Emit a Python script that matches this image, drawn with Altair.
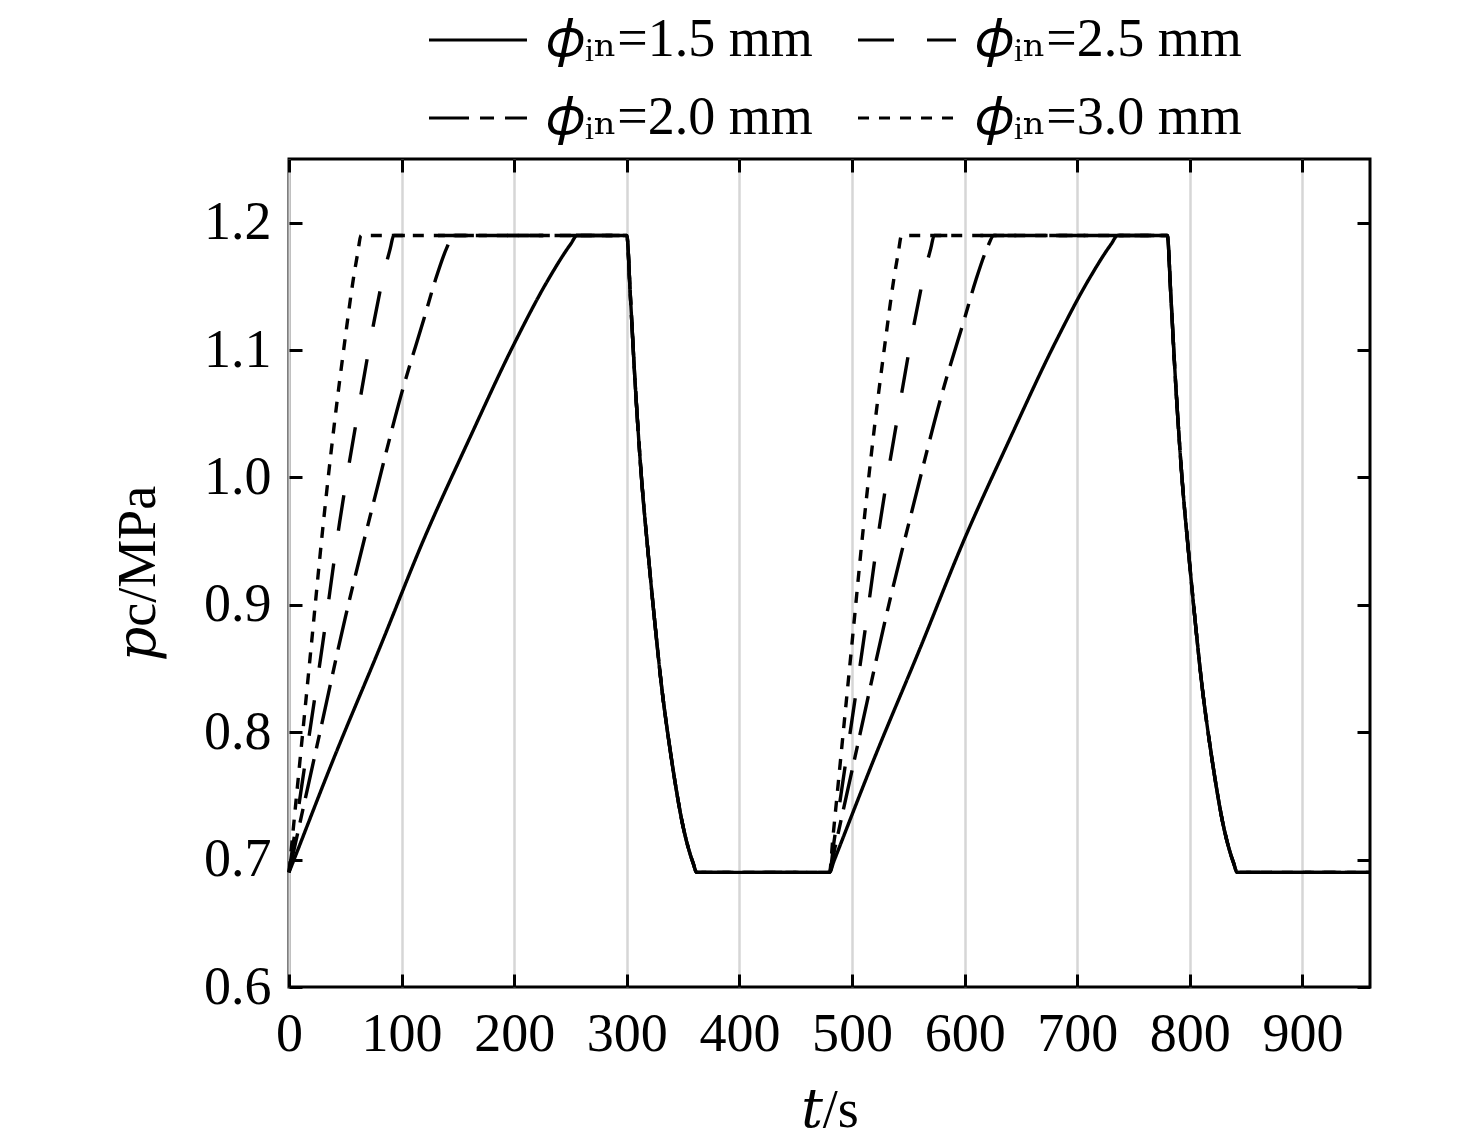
import altair as alt
import pandas as pd

# ---- values ----
# series labels (legend order: row-major in a 2-column legend)
series_names = ["𝜙ᵢₙ=1.5 mm", "𝜙ᵢₙ=2.5 mm", "𝜙ᵢₙ=2.0 mm", "𝜙ᵢₙ=3.0 mm"]
series_dash = [[1, 0], [36, 33], [40, 11, 14, 11], [11, 10]]

# charging (rise) phase: seconds after the start of a cycle, pressure in MPa
rise_t_15 = [0, 4, 40, 80, 120, 160, 200, 230, 250, 256]
rise_p_15 = [0.69, 0.699, 0.78, 0.865, 0.952, 1.03, 1.105, 1.155, 1.183, 1.19]
rise_t_20 = [0, 5, 25, 50, 75, 100, 120, 130, 140, 146]
rise_p_20 = [0.69, 0.71, 0.79, 0.89, 0.98, 1.066, 1.125, 1.155, 1.180, 1.19]
rise_t_25 = [0, 4, 15, 30, 45, 60, 75, 85, 90, 93]
rise_p_25 = [0.69, 0.714, 0.78, 0.87, 0.965, 1.045, 1.12, 1.163, 1.18, 1.19]
rise_t_30 = [0, 3, 10, 20, 30, 40, 50, 57, 61, 64]
rise_p_30 = [0.69, 0.717, 0.78, 0.87, 0.96, 1.04, 1.11, 1.155, 1.176, 1.19]

# discharging (drop) phase, common to all series: seconds after valve switch
drop_t = [0, 3, 7, 13, 19, 25, 31, 37, 43, 49, 55, 59, 62]
drop_p = [1.19, 1.145, 1.08, 1.00, 0.94, 0.885, 0.835, 0.795, 0.76, 0.73, 0.708, 0.697, 0.69]

cycle_starts = [0, 480]     # s
switch_times = [300, 780]   # s
end_time = 960              # s

x_ticks = [0, 100, 200, 300, 400, 500, 600, 700, 800, 900]
y_ticks = [0.6, 0.7, 0.8, 0.9, 1.0, 1.1, 1.2]

rises = {
    series_names[0]: (rise_t_15, rise_p_15),
    series_names[2]: (rise_t_20, rise_p_20),
    series_names[1]: (rise_t_25, rise_p_25),
    series_names[3]: (rise_t_30, rise_p_30),
}

rows = []
for name, (rt, rp) in rises.items():
    i = 0
    for c0, sw in zip(cycle_starts, switch_times):
        for t, p in zip(rt, rp):
            rows.append({"t": c0 + t, "p": p, "series": name, "i": i}); i += 1
        for t, p in zip(drop_t, drop_p):
            rows.append({"t": sw + t, "p": p, "series": name, "i": i}); i += 1
    rows.append({"t": end_time, "p": drop_p[-1], "series": name, "i": i})
df = pd.DataFrame(rows)

FONT = "Liberation Serif, DejaVu Serif, DejaVu Sans"
FS = 54
TICK = 13

xscale = alt.Scale(domain=[0, 960], nice=False, zero=False)
yscale = alt.Scale(domain=[0.6, 1.25], nice=False, zero=False)

base = alt.Chart(df)

lines = base.mark_line(strokeWidth=3.4, color="black", strokeCap="butt",
                       interpolate="monotone").encode(
    x=alt.X("t:Q", scale=xscale,
            axis=alt.Axis(orient="bottom", values=x_ticks, format="d", offset=-TICK,
                          tickSize=TICK, tickWidth=3, tickColor="black", domain=False,
                          grid=True, gridColor="#d6d6d6", gridWidth=2.5,
                          labelFont=FONT, labelFontSize=FS, labelColor="black",
                          labelPadding=20, labelFlush=False,
                          title="𝑡/s", titleFont=FONT, titleFontSize=FS,
                          titleFontWeight="normal", titleColor="black", titlePadding=22)),
    y=alt.Y("p:Q", scale=yscale,
            axis=alt.Axis(orient="left", values=y_ticks, format=".1f", offset=-TICK,
                          tickSize=TICK, tickWidth=3, tickColor="black", domain=False,
                          grid=False, labelFont=FONT, labelFontSize=FS, labelColor="black",
                          labelPadding=18, labelFlush=False,
                          title="𝑝c/MPa", titleFont=FONT, titleFontSize=FS,
                          titleFontWeight="normal", titleColor="black", titlePadding=38)),
    strokeDash=alt.StrokeDash("series:N", sort=series_names,
                              scale=alt.Scale(domain=series_names, range=series_dash),
                              legend=alt.Legend(title=None, orient="none", values=series_names,
                                                direction="horizontal",
                                                legendX=162, legendY=-146,
                                                columns=2, columnPadding=39, rowPadding=24,
                                                symbolType="M-5,0H5", symbolSize=384,
                                                symbolStrokeWidth=3, symbolStrokeColor="black",
                                                labelFont=FONT, labelFontSize=FS,
                                                labelColor="black", labelOffset=42,
                                                labelLimit=600, padding=0)),
    order="i:Q",
)

frame_ticks = base.mark_line(strokeOpacity=0).encode(
    x=alt.X("t:Q", scale=xscale,
            axis=alt.Axis(orient="top", values=x_ticks, offset=-TICK, tickSize=TICK,
                          tickWidth=3, tickColor="black", domain=False, grid=False,
                          labels=False, title=None)),
    y=alt.Y("p:Q", scale=yscale,
            axis=alt.Axis(orient="right", values=y_ticks, offset=-TICK, tickSize=TICK,
                          tickWidth=3, tickColor="black", domain=False, grid=False,
                          labels=False, title=None)),
    detail="series:N",
    order="i:Q",
)

chart = alt.layer(lines, frame_ticks).resolve_axis(x="independent", y="independent").properties(
    width=1081, height=828,
    padding={"left": 281, "top": 151, "right": 90, "bottom": 150},
    autosize=alt.AutoSizeParams(type="none"),
    background="white",
).configure_view(stroke="black", strokeWidth=3)

chart.save("out.html", embed_options={"renderer": "svg", "actions": False})
